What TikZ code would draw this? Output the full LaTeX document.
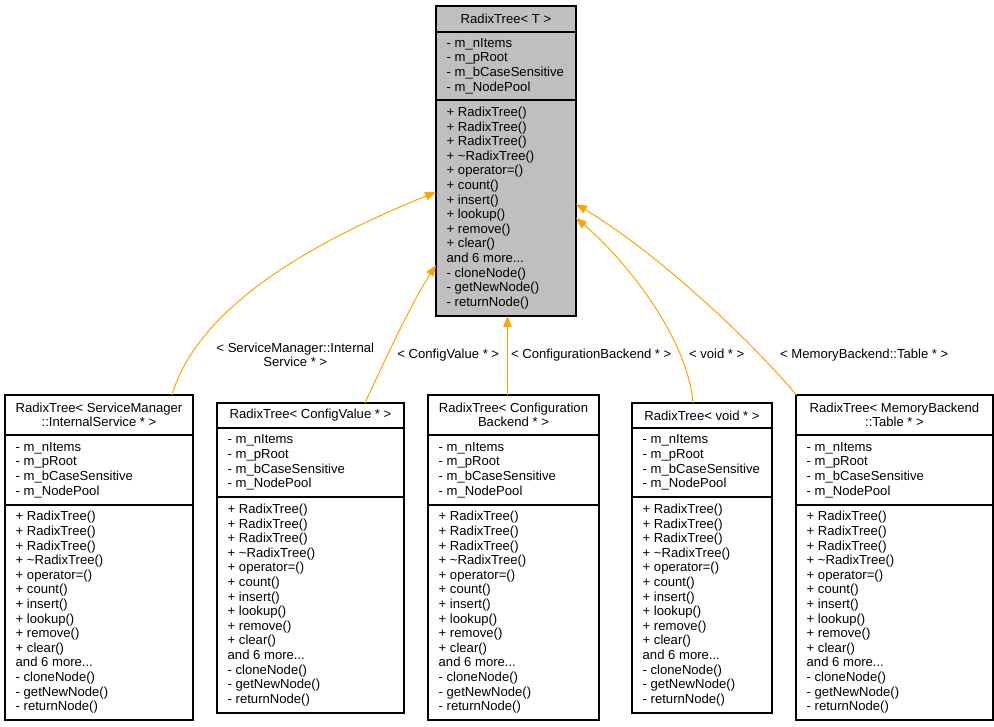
\documentclass[tikz,border=0pt]{standalone}
\usepackage{fontspec}
\setmainfont{Liberation Sans}
\usetikzlibrary{arrows.meta}
\definecolor{edgeor}{HTML}{FFA500}
\definecolor{basegray}{HTML}{BFBFBF}

\newcommand\rtattrs{- m\_nItems\\- m\_pRoot\\- m\_bCaseSensitive\\- m\_NodePool}
\newcommand\rtmeths{+ RadixTree()\\+ RadixTree()\\+ RadixTree()\\+ \textasciitilde RadixTree()\\+ operator=()\\+ count()\\+ insert()\\+ lookup()\\+ remove()\\+ clear()\\and 6 more...\\- cloneNode()\\- getNewNode()\\- returnNode()}

\tikzset{
  every node/.style={font=\fontsize{13.1}{14.6}\selectfont},
  classbox/.style={draw=black, line width=1.1pt, rectangle, anchor=north west, inner sep=0pt, outer sep=0pt},
  boxline/.style={draw=black, line width=1.1pt},
  titletext/.style={align=center, inner sep=0pt},
  listtext/.style={align=left, anchor=west, inner sep=0pt},
  lbl/.style={inner sep=0pt},
  inh/.style={draw=edgeor, line width=1pt, -{Triangle[length=11pt,width=8.5pt]}},
}

% name, x1, x2, ytop, ysep1, ysep2, ybot, title, fill
\newcommand\rtclass[9]{%
  \node[classbox, fill=#9, minimum width={(#3-#2)*1pt}, minimum height={(#7-#4)*1pt}] (#1) at (#2,#4) {};
  \draw[boxline] (#2,#5) -- (#3,#5);
  \draw[boxline] (#2,#6) -- (#3,#6);
  \node[titletext] (#1-t) at ({(#2+#3)/2},{(#4+#5)/2}) {#8};
  \node[listtext] (#1-a) at ({#2+10.5},{(#5+#6)/2}) {\rtattrs};
  \node[listtext] (#1-m) at ({#2+10.5},{(#6+#7)/2}) {\rtmeths};
}

\begin{document}
\begin{tikzpicture}[x=1pt,y=-1pt]
\useasboundingbox (0,0) rectangle (994,727);

\rtclass{base}{436}{576}{6}{32}{100}{316}{RadixTree< T >}{basegray}
\rtclass{n1}{5}{193}{395}{435}{505}{720}{RadixTree< ServiceManager\\::InternalService * >}{white}
\rtclass{n2}{217}{404}{403}{428}{497}{713}{RadixTree< ConfigValue * >}{white}
\rtclass{n3}{428}{599}{395}{435}{505}{720}{RadixTree< Configuration\\Backend * >}{white}
\rtclass{n4}{632}{772}{403}{428}{497}{713}{RadixTree< void * >}{white}
\rtclass{n5}{796}{993}{395}{435}{505}{720}{RadixTree< MemoryBackend\\::Table * >}{white}

\draw[inh] ([xshift=167pt]n1.north west) .. controls (200,300) and (330,235) .. ([yshift=-186pt]base.north west);
\draw[inh] ([xshift=148pt]n2.north west) .. controls (378,375) and (410,305) .. ([yshift=-259pt]base.north west);
\draw[inh] ([xshift=79.5pt]n3.north west) -- ([xshift=71.5pt]base.south west);
\draw[inh] ([xshift=61pt]n4.north west) .. controls (688,340) and (628,262) .. ([yshift=-212pt]base.north east);
\draw[inh] ([xshift=0.5pt]n5.north west) .. controls (750,340) and (660,255) .. ([yshift=-198pt]base.north east);

\node[lbl, align=center] (l1) at (295.3,355) {< ServiceManager::Internal\\Service * >};
\node[lbl, anchor=base] (l2) at (448.3,358.7) {< ConfigValue * >};
\node[lbl, anchor=base] (l3) at (591.3,358.7) {< ConfigurationBackend * >};
\node[lbl, anchor=base] (l4) at (716.7,358.7) {< void * >};
\node[lbl, anchor=base] (l5) at (864.3,358.7) {< MemoryBackend::Table * >};
\end{tikzpicture}
\end{document}
